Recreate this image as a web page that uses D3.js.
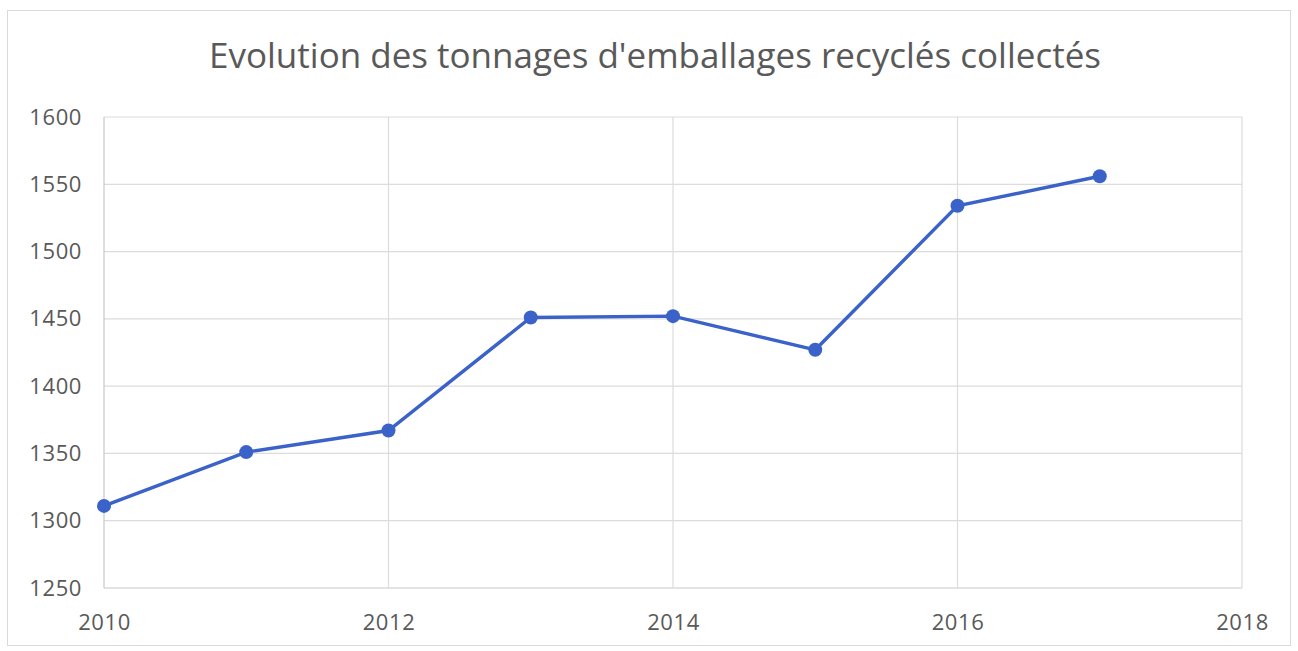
<!DOCTYPE html>
<html>
<head>
<meta charset="utf-8">
<script src="https://cdn.jsdelivr.net/npm/d3@7"></script>
<style>
  body { margin: 0; background: #fff; }
  text { font-family: "Open Sans", "Noto Sans", sans-serif; fill: #595959; }
</style>
</head>
<body>
<svg id="chart"></svg>
<script>
// Data
const years = [2010, 2011, 2012, 2013, 2014, 2015, 2016, 2017];
const tonnages = [1311, 1351, 1367, 1451, 1452, 1427, 1534, 1556];
const yTicks = [1250, 1300, 1350, 1400, 1450, 1500, 1550, 1600];
const xTicks = [2010, 2012, 2014, 2016, 2018];
const title = "Evolution des tonnages d'emballages recyclés collectés";

const W = 1298, H = 651;
const margin = { top: 117, right: 56, bottom: 63, left: 104 };
const width = W - margin.left - margin.right;
const height = H - margin.top - margin.bottom;

const root = d3.select("#chart").attr("width", W).attr("height", H);

// Outer chart frame
root.append("rect")
    .attr("x", 7.5).attr("y", 10.5)
    .attr("width", 1283).attr("height", 635)
    .attr("fill", "#fff")
    .attr("stroke", "#d9d9d9");

root.append("text")
    .attr("x", 655)
    .attr("y", 68)
    .attr("text-anchor", "middle")
    .style("font-size", "35px")
    .text(title);

const svg = root.append("g")
    .attr("transform", `translate(${margin.left},${margin.top})`);

const x = d3.scaleLinear().domain([2010, 2018]).range([0, width]);
const y = d3.scaleLinear().domain([1250, 1600]).range([height, 0]);

// Horizontal gridlines
svg.selectAll(".hgrid")
    .data(yTicks)
    .enter().append("line")
    .attr("class", "hgrid")
    .attr("x1", 0).attr("x2", width)
    .attr("y1", d => y(d)).attr("y2", d => y(d))
    .attr("stroke", d => d === 1250 ? "#c8c8c8" : "#dcdcdc")
    .attr("stroke-width", 1.2);

// Vertical gridlines
svg.selectAll(".vgrid")
    .data(xTicks)
    .enter().append("line")
    .attr("class", "vgrid")
    .attr("y1", 0).attr("y2", height)
    .attr("x1", d => x(d)).attr("x2", d => x(d))
    .attr("stroke", d => d === 2010 ? "#c8c8c8" : "#dcdcdc")
    .attr("stroke-width", 1.2);

// Y axis labels
const yAxis = svg.append("g")
    .call(d3.axisLeft(y).tickValues(yTicks).tickSize(0).tickPadding(22).tickFormat(d3.format("d")));
yAxis.select(".domain").remove();
yAxis.selectAll("text").style("font-size", "22px").style("letter-spacing", "0.6px").attr("fill", "#595959");

// X axis labels
const xAxis = svg.append("g")
    .attr("transform", `translate(0,${height})`)
    .call(d3.axisBottom(x).tickValues(xTicks).tickSize(0).tickPadding(26).tickFormat(d3.format("d")));
xAxis.select(".domain").remove();
xAxis.selectAll("text").style("font-size", "22px").style("letter-spacing", "0.6px").attr("fill", "#595959");

const data = years.map((yr, i) => ({ year: yr, value: tonnages[i] }));

// Line
svg.append("path")
    .datum(data)
    .attr("fill", "none")
    .attr("stroke", "#3a62c8")
    .attr("stroke-width", 3.4)
    .attr("d", d3.line().x(d => x(d.year)).y(d => y(d.value)));

// Markers
svg.selectAll(".pt")
    .data(data)
    .enter().append("circle")
    .attr("class", "pt")
    .attr("cx", d => x(d.year))
    .attr("cy", d => y(d.value))
    .attr("r", 7)
    .attr("fill", "#3a62c8");
</script>
</body>
</html>
